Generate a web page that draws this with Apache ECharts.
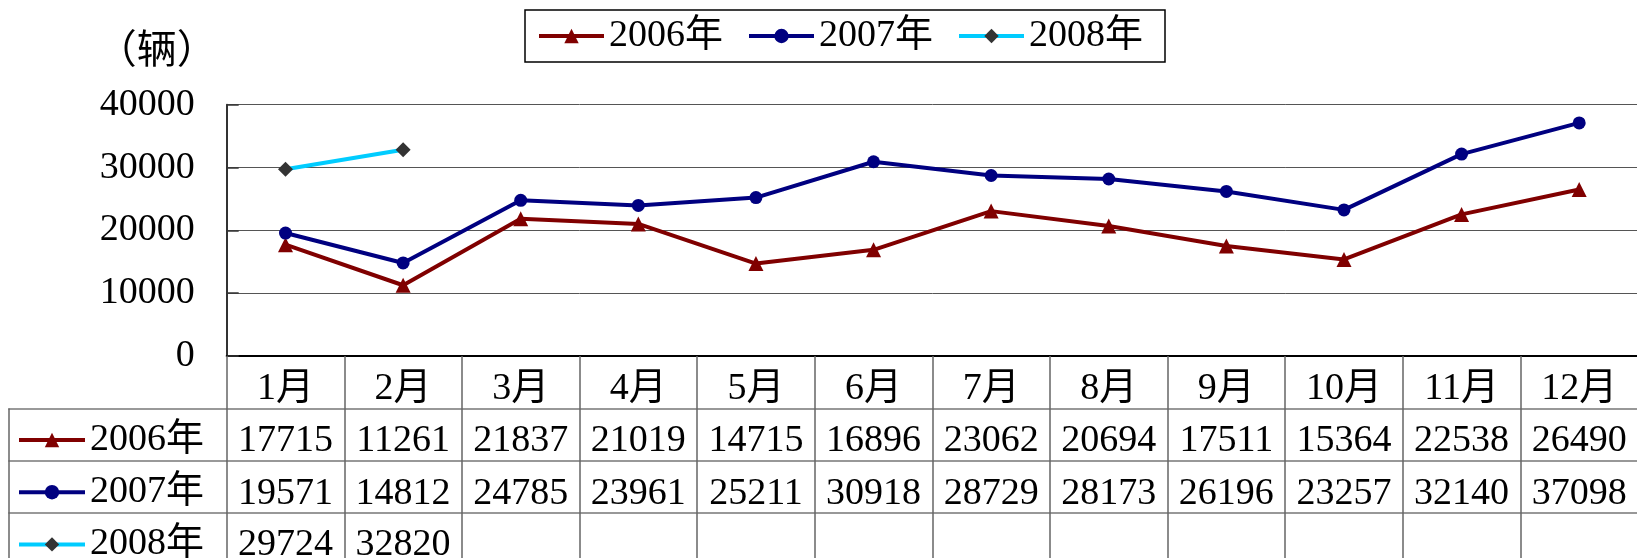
<!DOCTYPE html>
<html>
<head>
<meta charset="utf-8">
<script src="https://cdn.jsdelivr.net/npm/echarts@6/dist/echarts.min.js"></script>
<style>
html,body{margin:0;padding:0;background:#fff;}
#chart{width:1637px;height:558px;}
</style>
</head>
<body>
<div id="chart"></div>
<script>
const months = ['1月','2月','3月','4月','5月','6月','7月','8月','9月','10月','11月','12月'];
const seriesNames = ['2006年','2007年','2008年'];
const data2006 = [17715, 11261, 21837, 21019, 14715, 16896, 23062, 20694, 17511, 15364, 22538, 26490];
const data2007 = [19571, 14812, 24785, 23961, 25211, 30918, 28729, 28173, 26196, 23257, 32140, 37098];
const data2008 = [29724, 32820, null, null, null, null, null, null, null, null, null, null];
const yTicks = {min: 0, max: 40000, interval: 10000};
const unitLabel = '（辆）';

const FONT = '"Liberation Serif", "Noto Sans CJK SC", serif';
const FS = 38;
const lineColors = ['#800000', '#000080', '#00CCFF'];
const symColors = ['#800000', '#000080', '#333333'];
const symbols = ['triangle', 'circle', 'diamond'];
const allData = [data2006, data2007, data2008];

const tableRowOffsets = [53, 104.8, 156.6];
const tableRowMargins = [13, 14, 13];

const xAxes = [{
  type: 'category', gridIndex: 0, data: months, position: 'bottom',
  boundaryGap: true,
  axisLine: {show: true, lineStyle: {color: '#000', width: 2}},
  axisTick: {show: true, inside: false, length: 212, lineStyle: {color: '#666', width: 1.5}},
  axisLabel: {color: '#000', fontFamily: FONT, fontSize: FS, lineHeight: FS, margin: 14},
  splitLine: {show: false}
}];
allData.forEach((arr, i) => {
  xAxes.push({
    type: 'category', gridIndex: 0, position: 'bottom', offset: tableRowOffsets[i],
    data: arr.map(v => v == null ? '' : String(v)),
    boundaryGap: true,
    axisLine: {show: true, lineStyle: {color: '#777', width: 1.5}},
    axisTick: {show: false},
    axisLabel: {color: '#000', fontFamily: FONT, fontSize: FS, lineHeight: FS, margin: tableRowMargins[i], interval: 0},
    splitLine: {show: false}
  });
});
xAxes.push({type: 'value', gridIndex: 1, show: false, min: 0, max: 1});

const chart = echarts.init(document.getElementById('chart'), null, {renderer: 'canvas'});
chart.setOption({
  animation: false,
  backgroundColor: '#fff',
  grid: [
    {left: 226.7, right: -1, top: 104.7, bottom: 202, containLabel: false, outerBoundsMode: 'none'},
    {left: 8.3, width: 218.4, top: 409, height: 155.4, containLabel: false, outerBoundsMode: 'none'}
  ],
  legend: [{
    data: seriesNames,
    left: 525, top: 10,
    orient: 'horizontal',
    padding: [7, 22, 7, 12],
    itemGap: 24,
    itemWidth: 65, itemHeight: 18,
    borderColor: '#000', borderWidth: 1.5,
    selectedMode: false,
    lineStyle: {width: 4},
    textStyle: {color: '#000', fontFamily: FONT, fontSize: FS, lineHeight: FS}
  }, {
    data: seriesNames,
    left: 17, top: 421, width: 210, height: 200,
    orient: 'vertical',
    padding: 0,
    itemGap: 14.2,
    itemWidth: 66, itemHeight: 18,
    selectedMode: false,
    lineStyle: {width: 4},
    textStyle: {color: '#000', fontFamily: FONT, fontSize: FS, lineHeight: FS}
  }],
  xAxis: xAxes,
  yAxis: [{
    type: 'value', gridIndex: 0,
    min: yTicks.min, max: yTicks.max, interval: yTicks.interval,
    name: unitLabel,
    nameLocation: 'end', nameGap: 52,
    nameTextStyle: {color: '#000', fontFamily: FONT, fontSize: 40, align: 'right', verticalAlign: 'middle', padding: [0, 10, 0, 0]},
    axisLine: {show: true, lineStyle: {color: '#333', width: 2}},
    axisTick: {show: true, inside: true, length: 12, lineStyle: {color: '#333', width: 1.5}},
    axisLabel: {color: '#000', fontFamily: FONT, fontSize: FS, margin: 32, padding: [18, 0, 0, 0],
      formatter: v => String(v)},
    splitLine: {show: true, lineStyle: {color: '#555', width: 1}}
  }, {
    type: 'category', gridIndex: 1, data: ['r1', 'r2', 'r3'], inverse: true,
    boundaryGap: true,
    axisLine: {show: true, lineStyle: {color: '#666', width: 1.5}},
    axisTick: {show: false},
    axisLabel: {show: false},
    splitLine: {show: true, lineStyle: {color: '#777', width: 1.5}}
  }],
  series: allData.map((arr, i) => ({
    name: seriesNames[i],
    type: 'line',
    xAxisIndex: 0, yAxisIndex: 0,
    data: arr,
    symbol: symbols[i],
    symbolSize: i === 1 ? 13 : 15,
    showSymbol: true,
    connectNulls: false,
    lineStyle: {color: lineColors[i], width: 4},
    itemStyle: {color: symColors[i], borderWidth: 0},
    emphasis: {disabled: true}
  }))
});
</script>
</body>
</html>
